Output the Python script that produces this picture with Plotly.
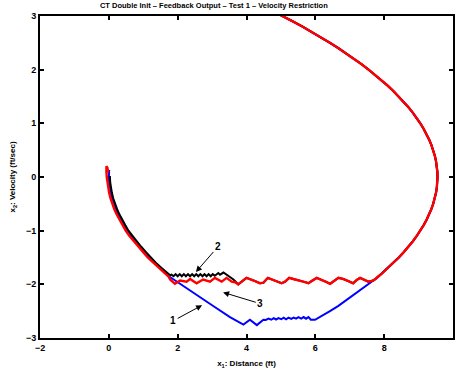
import plotly.graph_objects as go

# Outer approach arc shared by all three runs (x: distance ft, y: velocity ft/s)
outer_x = [4.43, 4.745, 5.05, 5.345, 5.63, 5.905, 6.17, 6.425, 6.67, 6.905, 7.13,
           7.345, 7.55, 7.745, 7.93, 8.105, 8.27, 8.425, 8.57, 8.705, 8.83, 8.945,
           9.05, 9.145, 9.23, 9.305, 9.37, 9.425, 9.47, 9.505, 9.53, 9.545, 9.55,
           9.545, 9.53, 9.505, 9.47, 9.425, 9.37, 9.305, 9.23, 9.145, 9.05, 8.945,
           8.83, 8.705, 8.57, 8.425, 8.27, 8.105, 7.93, 7.745, 7.68]
outer_y = [3.2, 3.1, 3.0, 2.9, 2.8, 2.7, 2.6, 2.5, 2.4, 2.3, 2.2,
           2.1, 2.0, 1.9, 1.8, 1.7, 1.6, 1.5, 1.4, 1.3, 1.2, 1.1,
           1.0, 0.9, 0.8, 0.7, 0.6, 0.5, 0.4, 0.3, 0.2, 0.1, 0.0,
           -0.1, -0.2, -0.3, -0.4, -0.5, -0.6, -0.7, -0.8, -0.9, -1.0, -1.1,
           -1.2, -1.3, -1.4, -1.5, -1.6, -1.7, -1.8, -1.9, -1.93]

# Run 1 (blue): continues down the arc, chatters near -2.65, then cuts back to the origin
blue_tail_x = [7.55, 7.345, 7.13, 6.905, 6.67, 6.425, 6.17, 6.04, 5.99, 5.87, 5.80, 5.73,
               5.66, 5.59, 5.51, 5.44, 5.37, 5.30, 5.22, 5.15, 5.08, 5.01, 4.93, 4.86,
               4.79, 4.72, 4.64, 4.56, 4.49, 4.30, 4.10, 3.91, 3.52, 3.00, 2.41, 2.00,
               1.70, 1.69, 1.51, 1.34, 1.18, 1.05, 0.91, 0.78, 0.65, 0.54, 0.45, 0.36,
               0.28, 0.21, 0.15, 0.10, 0.06, 0.03, 0.01, 0.00, 0.01]
blue_tail_y = [-2.0, -2.1, -2.2, -2.3, -2.4, -2.5, -2.6, -2.65, -2.66, -2.66, -2.61, -2.64,
               -2.61, -2.64, -2.61, -2.64, -2.62, -2.645, -2.62, -2.65, -2.62, -2.65, -2.63, -2.655,
               -2.63, -2.66, -2.64, -2.665, -2.66, -2.76, -2.66, -2.75, -2.61, -2.39, -2.13, -1.96,
               -1.83, -1.8, -1.7, -1.6, -1.5, -1.4, -1.3, -1.2, -1.1, -1.0, -0.9, -0.8,
               -0.7, -0.6, -0.5, -0.4, -0.3, -0.2, -0.1, 0.0, 0.13]

# Run 3 (red): chatter along the -1.9 ft/s restriction, then back up to the origin
red_tail_x = [7.54, 7.42, 7.30, 7.20, 7.10, 6.96, 6.81, 6.67, 6.57, 6.43, 6.33, 6.19,
              6.04, 5.89, 5.80, 5.65, 5.51, 5.36, 5.24, 5.12, 5.02, 4.88, 4.73, 4.62,
              4.49, 4.39, 4.25, 4.15, 4.00, 3.86, 3.76, 3.67, 3.57, 3.42, 3.28, 3.08,
              2.94, 2.74, 2.55, 2.36, 2.26, 2.07, 1.92, 1.78, 1.73, 1.64, 1.46, 1.29,
              1.13, 1.00, 0.86, 0.73, 0.60, 0.49, 0.40, 0.31, 0.23, 0.16, 0.10, 0.05,
              0.01, -0.02, -0.04, -0.06, -0.07, -0.07, -0.04, -0.02]
red_tail_y = [-1.95, -1.92, -1.88, -1.92, -1.98, -1.94, -1.90, -1.88, -1.92, -1.99, -1.96, -1.92,
              -1.88, -1.94, -1.98, -1.95, -1.92, -1.90, -1.88, -1.95, -1.98, -1.94, -1.90, -1.88,
              -1.97, -1.98, -1.94, -1.92, -1.88, -1.95, -2.00, -1.96, -1.95, -1.88, -1.95, -1.88,
              -1.95, -1.91, -1.98, -1.90, -1.95, -1.93, -1.99, -1.91, -1.85, -1.8, -1.7, -1.6,
              -1.5, -1.4, -1.3, -1.2, -1.1, -1.0, -0.9, -0.8, -0.7, -0.6, -0.5, -0.4,
              -0.3, -0.2, -0.1, 0.0, 0.1, 0.2, 0.17, 0.08]

# Run 2 (black): leaves the red path near x=3.7 and chatters at -1.83 ft/s
black_tail_x = [3.62, 3.43, 3.33, 3.23, 3.18, 3.08, 3.02, 2.96, 2.90, 2.84, 2.78, 2.72,
                2.66, 2.60, 2.54, 2.48, 2.42, 2.36, 2.30, 2.24, 2.18, 2.12, 2.06, 2.00,
                1.94, 1.88, 1.82, 1.78, 1.72, 1.54, 1.37, 1.21, 1.08, 0.94, 0.81, 0.68,
                0.57, 0.48, 0.39, 0.31, 0.24, 0.18, 0.13, 0.09, 0.06, 0.04, 0.03]
black_tail_y = [-1.91, -1.82, -1.78, -1.82, -1.79, -1.84, -1.81, -1.85, -1.81, -1.85, -1.81, -1.85,
                -1.81, -1.85, -1.81, -1.85, -1.81, -1.85, -1.81, -1.85, -1.81, -1.85, -1.81, -1.85,
                -1.81, -1.85, -1.82, -1.83, -1.8, -1.7, -1.6, -1.5, -1.4, -1.3, -1.2, -1.1,
                -1.0, -0.9, -0.8, -0.7, -0.6, -0.5, -0.4, -0.3, -0.2, -0.1, 0.02]

x_ticks = [-2, 0, 2, 4, 6, 8, 10]
y_ticks = [-3, -2, -1, 0, 1, 2, 3]

# index in the red chatter where the black run separates from it
split = red_tail_x.index(3.76)

blue_x = outer_x + blue_tail_x
blue_y = outer_y + blue_tail_y
black_x = outer_x + red_tail_x[:split + 1] + black_tail_x
black_y = outer_y + red_tail_y[:split + 1] + black_tail_y
red_x = outer_x + red_tail_x
red_y = outer_y + red_tail_y

FONT = "Liberation Sans, Arial, Helvetica, sans-serif"
LABEL_FONT = dict(family=FONT, size=8, color="black", weight="bold")

fig = go.Figure()
fig.add_trace(go.Scatter(x=blue_x, y=blue_y, mode="lines",
                         line=dict(color="#0000ff", width=2)))
fig.add_trace(go.Scatter(x=black_x, y=black_y, mode="lines",
                         line=dict(color="#000000", width=2)))
fig.add_trace(go.Scatter(x=red_x, y=red_y, mode="lines",
                         line=dict(color="#ff0000", width=2.4)))

axis_common = dict(showgrid=False, zeroline=False, showline=True, linecolor="black",
                   linewidth=2, mirror="ticks", ticks="inside", ticklen=4,
                   tickwidth=1.5, tickcolor="black",
                   tickfont=dict(family=FONT, size=9, color="black", weight="bold"))

fig.update_xaxes(range=[-2, 10], tickvals=x_ticks,
                 title=dict(text="x<sub>1</sub>: Distance (ft)", font=LABEL_FONT, standoff=9),
                 **axis_common)
fig.update_yaxes(range=[-3, 3], tickvals=y_ticks,
                 title=dict(text="x<sub>2</sub>: Velocity (ft/sec)", font=LABEL_FONT, standoff=9),
                 **axis_common)

# numbered call-outs: label position and the point each arrow indicates
callouts = [
    ("1", (1.87, -2.68), (2.71, -2.39)),
    ("2", (3.17, -1.30), (2.53, -1.77)),
    ("3", (4.40, -2.36), (3.32, -2.15)),
]
for label, txt, tip in callouts:
    fig.add_annotation(x=tip[0], y=tip[1], ax=txt[0], ay=txt[1],
                       xref="x", yref="y", axref="x", ayref="y", text=label,
                       showarrow=True, arrowhead=2, arrowsize=1.2, arrowwidth=1,
                       arrowcolor="black", standoff=0,
                       font=dict(family=FONT, size=10, color="black", weight="bold"))

fig.update_layout(
    width=455, height=377,
    margin=dict(l=40, r=2, t=16, b=39, autoexpand=False),
    paper_bgcolor="white", plot_bgcolor="white",
    showlegend=False,
    title=dict(text="CT Double Init \u2013 Feedback Output \u2013 Test 1 \u2013 Velocity Restriction",
               x=0.421, xref="paper", xanchor="center",
               y=1 - 5 / 377, yref="container", yanchor="middle",
               font=dict(family=FONT, size=7.5, color="black", weight="bold")),
)

fig.write_html("out.html")
